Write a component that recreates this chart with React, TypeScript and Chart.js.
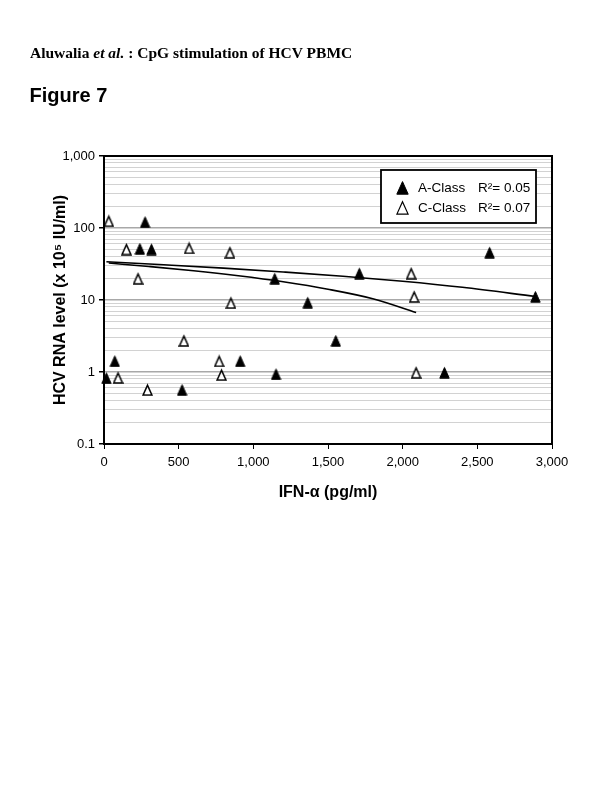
import React, { useEffect, useRef } from 'react';
import { Chart, registerables } from 'chart.js';

Chart.register(...registerables);

// A-Class (filled triangles)
const A_X = [16, 72, 240, 275, 318, 523, 912, 1143, 1152, 1364, 1552, 1710, 2280, 2582, 2889];
const A_Y = [0.83, 1.43, 52, 122, 51, 0.57, 1.43, 20, 0.94, 9.3, 2.74, 23.6, 0.99, 46, 11.2];
// C-Class (open triangles)
const C_X = [32, 94, 150, 228, 291, 535, 570, 771, 787, 843, 850, 2057, 2077, 2090];
const C_Y = [126, 0.84, 51, 20, 0.57, 2.74, 53, 1.43, 0.92, 46, 9.2, 23.6, 11.2, 0.99];
// Trend lines
const TREND_A_X = [16, 400, 800, 1200, 1600, 2000, 2400, 2889];
const TREND_A_Y = [33.9, 30.8, 27.7, 24.5, 21.4, 18.2, 15.0, 11.2];
const TREND_C_X = [32, 300, 600, 900, 1200, 1500, 1800, 2090];
const TREND_C_Y = [32.6, 29.2, 25.5, 21.7, 17.9, 14.1, 10.4, 6.7];

const SERIES_NAMES = ['A-Class', 'C-Class'];
const R2_LABELS = ['R²= 0.05', 'R²= 0.07'];
const Y_MAJOR = [0.1, 1, 10, 100, 1000];
const Y_LABELS = ['0.1', '1', '10', '100', '1,000'];
const X_TICKS = [0, 500, 1000, 1500, 2000, 2500, 3000];
const X_LABELS = ['0', '500', '1,000', '1,500', '2,000', '2,500', '3,000'];

const FONT = '"Liberation Sans", Arial, sans-serif';

function makeTriangle(w: number, h: number, filled: boolean, lw: number) {
  const c = document.createElement('canvas');
  c.width = w;
  c.height = h;
  const ctx = c.getContext('2d')!;
  const side = lw / 2 + 0.3;
  ctx.beginPath();
  ctx.moveTo(w / 2, lw + 0.6);
  ctx.lineTo(w - side, h - side);
  ctx.lineTo(side, h - side);
  ctx.closePath();
  ctx.fillStyle = filled ? '#000' : '#fff';
  ctx.fill();
  ctx.lineWidth = lw;
  ctx.strokeStyle = '#000';
  ctx.stroke();
  return c;
}

export default function App() {
  const ref = useRef<HTMLCanvasElement | null>(null);

  useEffect(() => {
    if (!ref.current) return;
    const triA = makeTriangle(11, 13, true, 1);
    const triC = makeTriangle(11, 13, false, 1.5);
    const legA = makeTriangle(13, 15, true, 1);
    const legC = makeTriangle(13, 15, false, 1.2);

    const borderPlugin = {
      id: 'plotBorder',
      beforeDatasetsDraw(chart: any) {
        const { left, top, width, height } = chart.chartArea;
        const ctx = chart.ctx;
        ctx.save();
        ctx.strokeStyle = '#000';
        ctx.lineWidth = 2;
        ctx.strokeRect(left, top, width, height);
        ctx.restore();
      },
    };

    const legendPlugin = {
      id: 'boxLegend',
      afterDraw(chart: any) {
        const ctx = chart.ctx;
        const area = chart.chartArea;
        const bw = 155;
        const bh = 53;
        const bx = area.right - 16 - bw;
        const by = area.top + 14;
        ctx.save();
        ctx.fillStyle = '#fff';
        ctx.fillRect(bx, by, bw, bh);
        ctx.strokeStyle = '#000';
        ctx.lineWidth = 1.8;
        ctx.strokeRect(bx, by, bw, bh);
        const imgs = [legA, legC];
        const rows = [by + 17, by + 37];
        ctx.font = `13.5px ${FONT}`;
        ctx.fillStyle = '#000';
        ctx.textBaseline = 'middle';
        ctx.textAlign = 'left';
        for (let i = 0; i < 2; i++) {
          const img = imgs[i];
          ctx.drawImage(img, Math.round(bx + 21 - img.width / 2), Math.round(rows[i] - img.height / 2));
          ctx.fillText(SERIES_NAMES[i], bx + 37, rows[i] + 1);
          ctx.fillText(R2_LABELS[i], bx + 97, rows[i] + 1);
        }
        ctx.restore();
      },
    };

    const isMajor = (v: number) => Y_MAJOR.some((m) => Math.abs(m - v) < m * 1e-6);

    const chart = new Chart(ref.current, {
      type: 'scatter',
      data: {
        datasets: [
          {
            type: 'line',
            label: 'A trend',
            data: TREND_A_X.map((x, i) => ({ x, y: TREND_A_Y[i] })),
            borderColor: '#000',
            borderWidth: 1.6,
            pointRadius: 0,
            showLine: true,
            cubicInterpolationMode: 'monotone',
            fill: false,
          } as any,
          {
            type: 'line',
            label: 'C trend',
            data: TREND_C_X.map((x, i) => ({ x, y: TREND_C_Y[i] })),
            borderColor: '#000',
            borderWidth: 1.6,
            pointRadius: 0,
            showLine: true,
            cubicInterpolationMode: 'monotone',
            fill: false,
          } as any,
          {
            label: SERIES_NAMES[0],
            data: A_X.map((x, i) => ({ x, y: A_Y[i] })),
            pointStyle: triA as any,
            pointRadius: 5,
            clip: false as any,
          },
          {
            label: SERIES_NAMES[1],
            data: C_X.map((x, i) => ({ x, y: C_Y[i] })),
            pointStyle: triC as any,
            pointRadius: 5,
            clip: false as any,
          },
        ],
      },
      options: {
        responsive: false,
        animation: false,
        devicePixelRatio: 1,
        layout: { padding: { left: 0, right: 48, top: 156, bottom: 296 } },
        plugins: {
          legend: { display: false },
          tooltip: { enabled: false },
          title: { display: false },
        },
        scales: {
          x: {
            type: 'linear',
            min: 0,
            max: 3000,
            afterBuildTicks: (s: any) => {
              s.ticks = X_TICKS.map((v) => ({ value: v }));
            },
            afterFit: (s: any) => {
              s.height = 60;
            },
            ticks: {
              autoSkip: false,
              maxRotation: 0,
              color: '#000',
              padding: 6,
              font: { family: FONT, size: 13 },
              callback: (_v: any, i: number) => X_LABELS[i],
            },
            grid: {
              display: true,
              drawOnChartArea: false,
              drawTicks: true,
              tickLength: 5,
              color: '#000',
              tickColor: '#000',
              lineWidth: 1,
            },
            border: { display: true, color: '#000', width: 2 },
            title: {
              display: true,
              text: 'IFN-α (pg/ml)',
              color: '#000',
              font: { family: FONT, size: 16, weight: 'bold' },
              padding: { top: 0, bottom: 2 },
            },
          },
          y: {
            type: 'logarithmic',
            min: 0.1,
            max: 1000,
            afterBuildTicks: (s: any) => {
              const t: any[] = [];
              for (let d = 0; d < Y_MAJOR.length - 1; d++) {
                for (let m = 1; m <= 9; m++) t.push({ value: Y_MAJOR[d] * m });
              }
              t.push({ value: Y_MAJOR[Y_MAJOR.length - 1] });
              s.ticks = t;
            },
            afterFit: (s: any) => {
              s.width = 104;
            },
            ticks: {
              autoSkip: false,
              color: '#000',
              padding: 4,
              font: { family: FONT, size: 13 },
              callback: (v: any) => {
                const idx = Y_MAJOR.findIndex((m) => Math.abs(m - v) < m * 1e-6);
                return idx >= 0 ? Y_LABELS[idx] : '';
              },
            },
            grid: {
              drawTicks: true,
              tickLength: 5,
              color: (c: any) => (c.tick && isMajor(c.tick.value) ? '#a8a8a8' : '#d2d2d2'),
              lineWidth: (c: any) => (c.tick && isMajor(c.tick.value) ? 1.5 : 1),
              tickColor: (c: any) => (c.tick && isMajor(c.tick.value) ? '#000' : 'rgba(0,0,0,0)'),
            },
            border: { display: true, color: '#000', width: 2 },
            title: {
              display: true,
              text: 'HCV RNA level (x 10⁵ IU/ml)',
              color: '#000',
              font: { family: FONT, size: 16, weight: 'bold' },
              padding: { top: 51, bottom: 0 },
            },
          },
        },
      } as any,
      plugins: [borderPlugin, legendPlugin],
    });

    return () => {
      chart.destroy();
    };
  }, []);

  return (
    <div style={{ position: 'absolute', left: 0, top: 0, width: 600, height: 800, background: '#fff' }}>
      <canvas ref={ref} width={600} height={800} style={{ position: 'absolute', left: 0, top: 0, display: 'block' }} />
      <div
        style={{
          position: 'absolute',
          left: 30,
          top: 44,
          fontFamily: '"Liberation Serif", "Times New Roman", serif',
          fontWeight: 'bold',
          fontSize: 15.5,
          color: '#000',
          whiteSpace: 'nowrap',
        }}
      >
        Aluwalia <i>et al.</i> : CpG stimulation of HCV PBMC
      </div>
      <div
        style={{
          position: 'absolute',
          left: 29.5,
          top: 84,
          fontFamily: FONT,
          fontWeight: 'bold',
          fontSize: 20,
          color: '#000',
          whiteSpace: 'nowrap',
        }}
      >
        Figure 7
      </div>
    </div>
  );
}
